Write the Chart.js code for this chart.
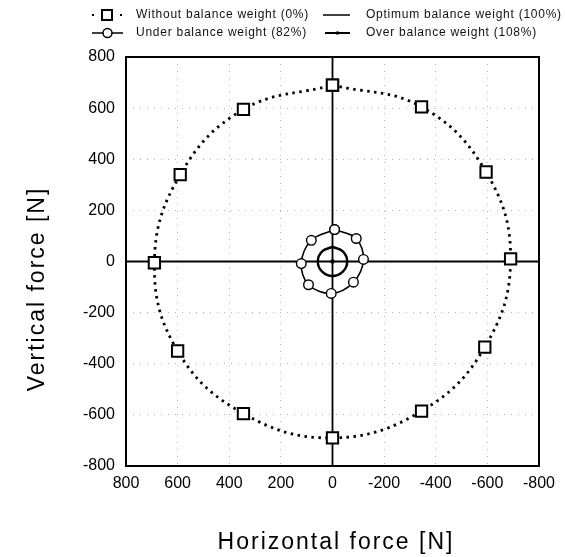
<!DOCTYPE html>
<html>
<head>
<meta charset="utf-8">
<script src="https://cdn.jsdelivr.net/npm/chart.js@4.4.1/dist/chart.umd.min.js"></script>
<style>
  html, body { margin: 0; padding: 0; background: #fff; }
  canvas { display: block; }
</style>
</head>
<body>
<canvas id="chart" width="565" height="557"></canvas>
<script>
// ================== DATA (N) ==================
const tickValues = [800, 600, 400, 200, 0, -200, -400, -600, -800];

// without balance weight (0%) - squares, once round the circle
const noWeightX = [0, -345, -595, -690, -590, -345, 0, 345, 600, 690, 590, 345, 0];
const noWeightY = [690, 605, 350, 10, -335, -585, -690, -595, -350, -5, 340, 595, 690];

// under balance weight (82%) - circles
const underX = [-8, -92, -120, -81, 5, 93, 121, 82, -8];
const underY = [125, 90, 8, -81, -125, -91, -8, 83, 125];

// optimum balance weight (100%) - just the centre
const optX = [0];
const optY = [0];

// over balance weight (108%)
const overX = [0, -40, -57, -40, 0, 40, 57, 40, 0];
const overY = [57, 40, 0, -40, -57, -40, 0, 40, 57];

const labels = [
  "Without balance weight (0%)",
  "Under balance weight (82%)",
  "Optimum balance weight (100%)",
  "Over balance weight (108%)"
];
const xTitle = "Horizontal force [N]";
const yTitle = "Vertical force [N]";

// ================== UTIL ==================
const FONT = '"Liberation Sans", Arial, sans-serif';
const pts = (xs, ys) => xs.map((x, i) => ({ x, y: ys[i] }));

// zero axes under the marks
const zeroLines = {
  id: "zeroLines",
  beforeDatasetsDraw(chart) {
    const { ctx, chartArea: a, scales } = chart;
    const x0 = scales.x.getPixelForValue(0);
    const y0 = scales.y.getPixelForValue(0);
    ctx.save();
    ctx.strokeStyle = "#000";
    ctx.lineWidth = 1.8;
    ctx.beginPath();
    ctx.moveTo(x0, a.top); ctx.lineTo(x0, a.bottom);
    ctx.moveTo(a.left, y0); ctx.lineTo(a.right, y0);
    ctx.stroke();
    ctx.restore();
  }
};

// frame, legend and axis titles
const decor = {
  id: "decor",
  afterDraw(chart) {
    const { ctx, chartArea: a } = chart;
    ctx.save();
    ctx.strokeStyle = "#000";
    ctx.lineWidth = 2;
    ctx.strokeRect(a.left, a.top, a.right - a.left, a.bottom - a.top);

    // legend
    ctx.font = "12px " + FONT;
    ctx.letterSpacing = "0.75px";
    ctx.textBaseline = "middle";
    ctx.textAlign = "left";
    const r1 = 15, r2 = 33;

    // without: dotted + square
    ctx.fillStyle = "#000";
    ctx.fillRect(92, r1 - 1, 2, 2);
    ctx.fillRect(120, r1 - 1, 2, 2);
    ctx.fillStyle = "#fff";
    ctx.lineWidth = 2;
    ctx.fillRect(102, r1 - 5, 10, 10);
    ctx.strokeRect(102, r1 - 5, 10, 10);
    ctx.fillStyle = "#111";
    ctx.fillText(labels[0], 136, r1);

    // under: line + circle
    ctx.lineWidth = 1.5;
    ctx.beginPath(); ctx.moveTo(92, r2); ctx.lineTo(123, r2); ctx.stroke();
    ctx.beginPath(); ctx.arc(107.5, r2, 4.5, 0, Math.PI * 2);
    ctx.fillStyle = "#fff"; ctx.fill(); ctx.stroke();
    ctx.fillStyle = "#111";
    ctx.fillText(labels[1], 136, r2);

    // optimum: line
    ctx.lineWidth = 1.5;
    ctx.beginPath(); ctx.moveTo(323, r1); ctx.lineTo(350, r1); ctx.stroke();
    ctx.fillText(labels[2], 366, r1);

    // over: thicker line with dot
    ctx.lineWidth = 2;
    ctx.beginPath(); ctx.moveTo(325, r2); ctx.lineTo(350, r2); ctx.stroke();
    ctx.beginPath(); ctx.arc(337.5, r2, 1.8, 0, Math.PI * 2); ctx.fillStyle = "#000"; ctx.fill();
    ctx.fillStyle = "#111";
    ctx.fillText(labels[3], 366, r2);

    // axis titles
    ctx.fillStyle = "#000";
    ctx.font = "23px " + FONT;
    ctx.letterSpacing = "2px";
    ctx.textAlign = "center";
    ctx.fillText(xTitle, 336, 543);
    ctx.translate(38, 289);
    ctx.rotate(-Math.PI / 2);
    ctx.fillText(yTitle, 0, 0);
    ctx.restore();
  }
};

// ================== CHART ==================
const tickOpts = {
  font: { size: 16, family: FONT },
  color: "#000",
  autoSkip: false,
  maxRotation: 0
};
const gridOpts = { color: "#b5b5b5", lineWidth: 1, drawTicks: false };

new Chart(document.getElementById("chart"), {
  type: "scatter",
  data: {
    datasets: [
      {
        label: labels[0],
        data: pts(noWeightX, noWeightY),
        showLine: true,
        tension: 0.4,
        borderColor: "#000",
        borderWidth: 2.8,
        borderDash: [2.5, 4.5],
        pointStyle: "rect",
        pointRadius: 8,
        pointBorderWidth: 2,
        pointBackgroundColor: "#fff",
        pointBorderColor: "#000"
      },
      {
        label: labels[1],
        data: pts(underX, underY),
        showLine: true,
        tension: 0.35,
        borderColor: "#000",
        borderWidth: 1.6,
        pointStyle: "circle",
        pointRadius: 4.8,
        pointBorderWidth: 1.4,
        pointBackgroundColor: "#fff",
        pointBorderColor: "#000"
      },
      {
        label: labels[3],
        data: pts(overX, overY),
        showLine: true,
        tension: 0.4,
        borderColor: "#000",
        borderWidth: 2.4,
        pointRadius: 0
      },
      {
        label: labels[2],
        data: pts(optX, optY),
        pointStyle: "circle",
        pointRadius: 2.2,
        pointBorderWidth: 0,
        pointBackgroundColor: "#000"
      }
    ]
  },
  options: {
    responsive: false,
    animation: false,
    layout: { padding: { top: 57, right: 26, left: 0, bottom: 0 } },
    plugins: { legend: { display: false }, tooltip: { enabled: false } },
    scales: {
      x: {
        type: "linear",
        min: -800, max: 800,
        reverse: true,
        afterBuildTicks: s => { s.ticks = tickValues.map(v => ({ value: v })); },
        afterFit: s => { s.height = 91; },
        ticks: { ...tickOpts, padding: 8 },
        grid: gridOpts,
        border: { display: false, dash: [1, 6] }
      },
      y: {
        type: "linear",
        min: -800, max: 800,
        afterBuildTicks: s => { s.ticks = tickValues.map(v => ({ value: v })); },
        afterFit: s => { s.width = 126; },
        ticks: { ...tickOpts, padding: 11 },
        grid: gridOpts,
        border: { display: false, dash: [1, 6] }
      }
    }
  },
  plugins: [zeroLines, decor]
});
</script>
</body>
</html>
